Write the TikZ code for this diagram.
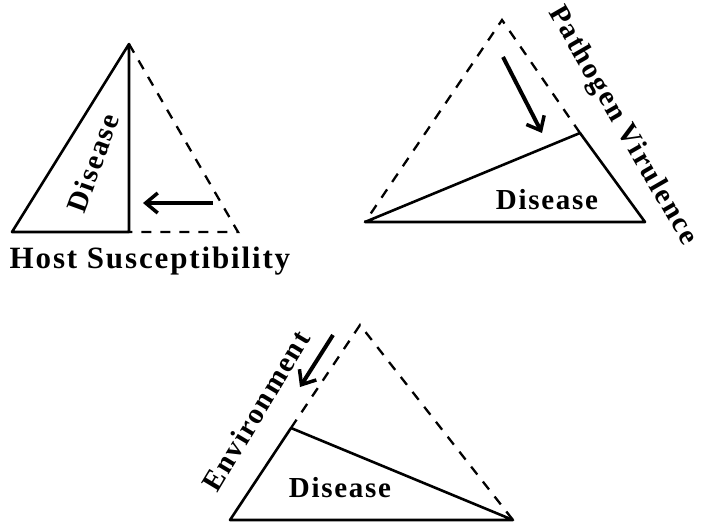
\documentclass[tikz,border=0pt]{standalone}
\usepackage{fontspec}
\setmainfont{Liberation Serif}
\newfontfamily\tagfont[LetterSpace=6]{Liberation Serif}
\usetikzlibrary{arrows.meta}

\begin{document}
\begin{tikzpicture}[x=1pt, y=-1pt,
  side/.style={line width=2.6pt, line join=round},
  ghost/.style={line width=2.3pt, dash pattern=on 10pt off 9pt},
  push/.style={line width=4pt, -{Straight Barb[length=12pt, width=20pt, line width=3.5pt]}},
  txt/.style={font=\tagfont\bfseries\fontsize{29}{31}\selectfont, inner sep=0pt},
]
  \useasboundingbox (0,0) rectangle (703,522);

  \coordinate (h-l) at (12,232);
  \coordinate (h-t) at (129,44);
  \coordinate (h-m) at (129,232);
  \coordinate (h-r) at (238,232);
  \coordinate (h-a1) at (213,203);
  \coordinate (h-a2) at (143,203);
  \draw[side] (h-m) -- (h-t) -- (h-l) -- cycle;
  \draw[ghost] (h-t) -- (h-r) -- (h-m);
  \draw[push] (h-a1) -- (h-a2);
  \node[txt, rotate=70] (h-dis) at (93,163) {Disease};
  \node[txt, anchor=base, font=\tagfont\bfseries\fontsize{31}{33}\selectfont] (h-host) at (150,268) {Host Susceptibility};

  \coordinate (p-l) at (365,222);
  \coordinate (p-r) at (645,222);
  \coordinate (p-t) at (502,20);
  \coordinate (p-m) at (580,133);
  \coordinate (p-a1) at (503,57);
  \coordinate (p-a2) at (542,133);
  \draw[side] (p-l) -- (p-r) -- (p-m) -- cycle;
  \draw[ghost] (p-m) -- (p-t) -- (p-l);
  \draw[push] (p-a1) -- (p-a2);
  \node[txt] (p-dis) at (547,200) {Disease};
  \node[txt, rotate=-60] (p-vir) at (622,126) {Pathogen Virulence};

  \coordinate (e-l) at (230,520);
  \coordinate (e-r) at (513,520);
  \coordinate (e-t) at (360,325);
  \coordinate (e-m) at (291,428);
  \coordinate (e-a1) at (333,335);
  \coordinate (e-a2) at (300,387);
  \draw[side] (e-m) -- (e-l) -- (e-r) -- cycle;
  \draw[ghost] (e-m) -- (e-t) -- (e-r);
  \draw[push] (e-a1) -- (e-a2);
  \node[txt] (e-dis) at (340,488) {Disease};
  \node[txt, rotate=59] (e-env) at (256,411) {Environment};
\end{tikzpicture}
\end{document}
